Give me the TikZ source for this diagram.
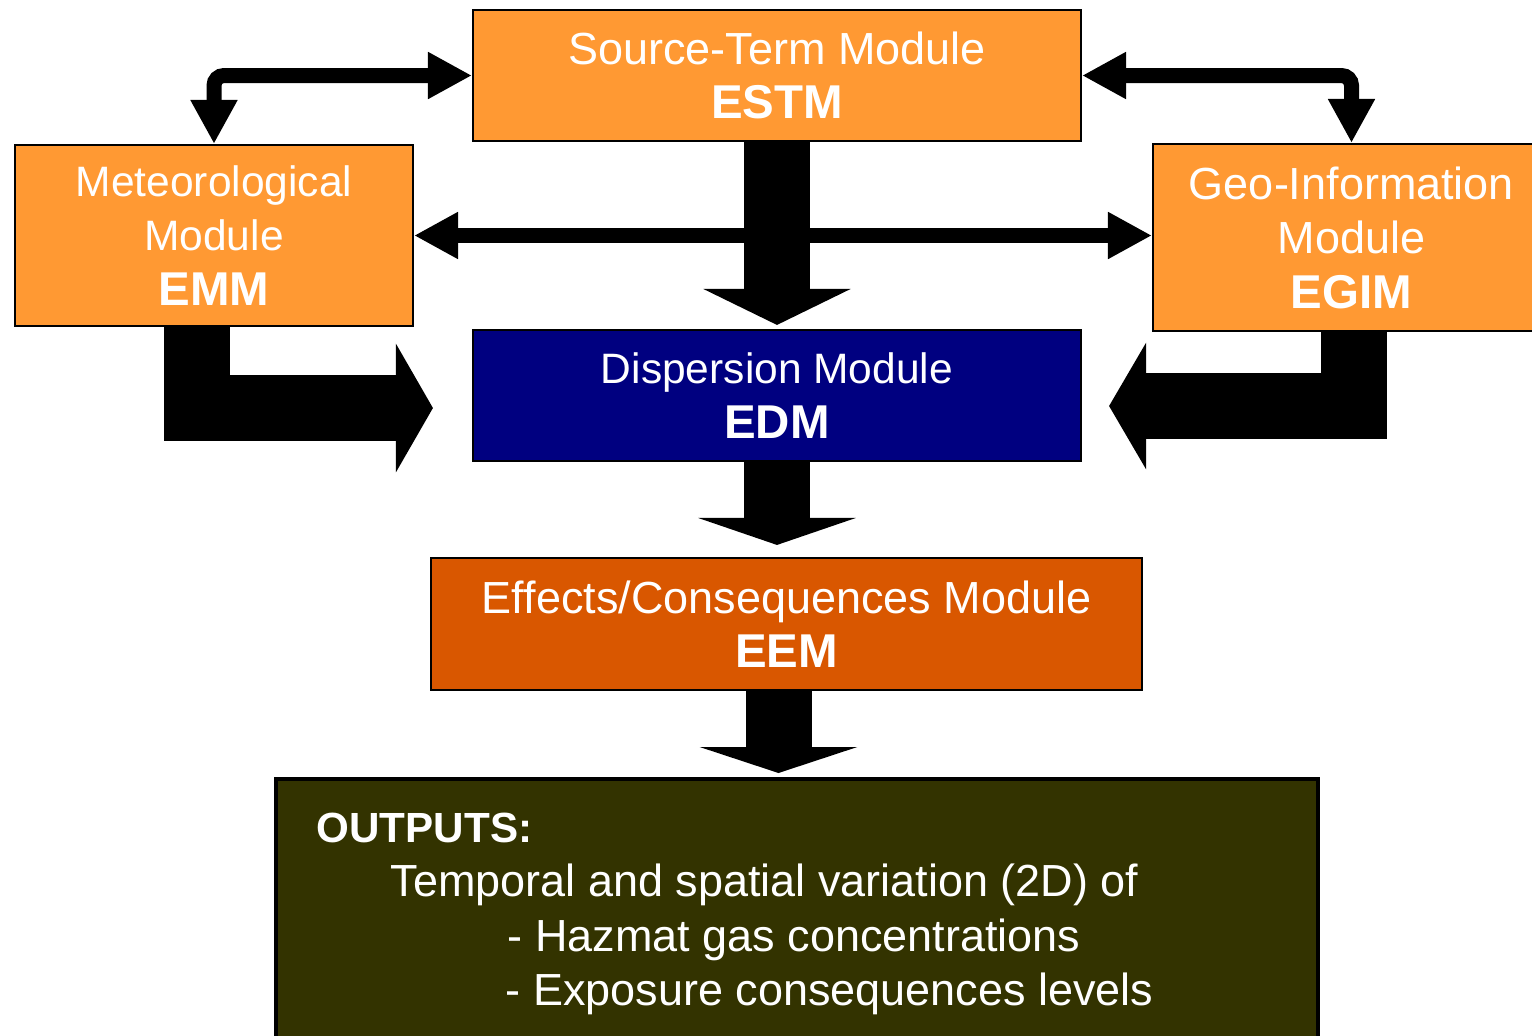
\documentclass[tikz,border=0pt]{standalone}
\usepackage{fontspec}
\setmainfont{Liberation Sans}
\usetikzlibrary{arrows.meta}
\definecolor{modorange}{RGB}{255,153,51}
\definecolor{effectorange}{RGB}{217,87,0}
\definecolor{dispnavy}{RGB}{0,0,128}
\definecolor{outolive}{RGB}{51,51,0}
\newcommand\modname[1]{{\fontsize{13.5}{15.5}\selectfont\bfseries #1}}
\begin{document}
\begin{tikzpicture}[
  module/.style={draw=black, line width=0.6pt, text=white, align=center, inner sep=0pt,
    font=\fontsize{12.8}{15.5}\selectfont},
  narrowtext/.style={font=\fontsize{12.1}{15.5}\selectfont},
  thinarrow/.style={line width=0.15cm, rounded corners=0.1cm,
    {Triangle[length=0.44cm,width=0.44cm]}-{Triangle[length=0.44cm,width=0.44cm]}},
  blockarrow/.style={line width=0.66cm}
]
  \useasboundingbox (0,0) rectangle (15.32,-10.36);
  % Modules
  \node[module, fill=modorange, minimum width=6.08cm, minimum height=1.31cm] (estm) at (7.77,-0.755)
    {Source-Term Module\\\modname{ESTM}};
  \node[module, narrowtext, fill=modorange, minimum width=3.98cm, minimum height=1.81cm] (emm) at (2.14,-2.355)
    {Meteorological\\Module\\\modname{EMM}};
  \node[module, fill=modorange, minimum width=3.97cm, minimum height=1.87cm] (egim) at (13.515,-2.375)
    {Geo-Information\\Module\\\modname{EGIM}};
  \node[module, narrowtext, fill=dispnavy, minimum width=6.08cm, minimum height=1.31cm] (edm) at (7.77,-3.955)
    {Dispersion Module\\\modname{EDM}};
  \node[module, fill=effectorange, minimum width=7.11cm, minimum height=1.32cm] (eem) at (7.865,-6.24)
    {Effects/Consequences Module\\\modname{EEM}};
  % Outputs box
  \node[draw=black, line width=1.1pt, fill=outolive, minimum width=10.42cm, minimum height=2.83cm,
    anchor=north west, inner sep=0pt] (outputs) at (2.74,-7.77) {};
  \node[anchor=north west, inner sep=0pt, text=white, align=left,
    font=\fontsize{12.8}{15.5}\selectfont] (outtext) at (3.16,-8.12)
    {{\fontsize{12}{15.5}\selectfont\bfseries OUTPUTS:}\\
     \hspace*{0.74cm}Temporal and spatial variation (2D) of\\
     \hspace*{1.91cm}- Hazmat gas concentrations\\
     \hspace*{1.89cm}- Exposure consequences levels};
  % Thin double arrows
  \draw[thinarrow] (estm.west) -| (emm.north);
  \draw[thinarrow] (estm.east) -| (egim.north);
  \draw[thinarrow] (emm.east) -- (emm.east -| egim.west);
  % Block arrows
  \draw[blockarrow, -{Triangle[length=0.36cm,width=1.46cm]}, shorten >=0.04cm] (estm.south) -- (edm.north);
  \draw[blockarrow, -{Triangle[length=0.37cm,width=1.27cm]}, shorten >=0.39cm]
    ([xshift=-0.17cm]emm.south) |- ([yshift=-0.125cm]edm.west);
  \draw[blockarrow, -{Triangle[length=0.37cm,width=1.25cm]}, shorten >=0.27cm]
    ([xshift=0.02cm]egim.south) |- ([yshift=-0.105cm]edm.east);
  \draw[blockarrow, -{Triangle[length=0.27cm,width=1.57cm]}, shorten >=0.12cm] (edm.south) -- (edm.south |- eem.north);
  \draw[blockarrow, -{Triangle[length=0.26cm,width=1.57cm]}, shorten >=0.04cm]
    ([xshift=-0.08cm]eem.south) -- ([xshift=-0.08cm]eem.south |- outputs.north);
\end{tikzpicture}
\end{document}
